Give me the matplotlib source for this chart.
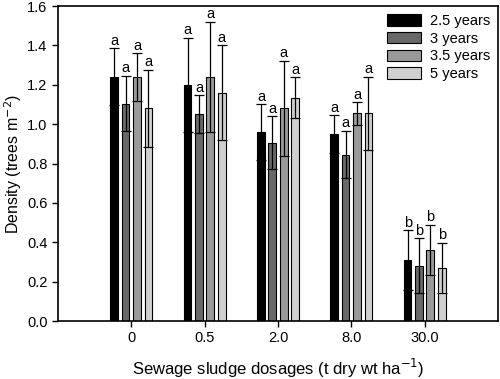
import numpy as np
import matplotlib
matplotlib.use("Agg")
from matplotlib import pyplot as plt

plt.rcParams['font.family'] = ['Liberation Sans', 'DejaVu Sans']

# data
dosages = ['0', '0.5', '2.0', '8.0', '30.0']
series = ['2.5 years', '3 years', '3.5 years', '5 years']
colors = ['#000000', '#686868', '#9a9a9a', '#d0d0d0']

d_25 = [1.24, 1.20, 0.96, 0.95, 0.31]
d_3 = [1.105, 1.05, 0.905, 0.845, 0.28]
d_35 = [1.24, 1.24, 1.08, 1.055, 0.36]
d_5 = [1.08, 1.16, 1.135, 1.055, 0.27]

e_25 = [0.145, 0.24, 0.14, 0.095, 0.15]
e_3 = [0.14, 0.097, 0.134, 0.12, 0.14]
e_35 = [0.12, 0.28, 0.243, 0.057, 0.128]
e_5 = [0.196, 0.24, 0.104, 0.185, 0.128]

letters = ['a', 'a', 'a', 'a', 'b']

values = [d_25, d_3, d_35, d_5]
errors = [e_25, e_3, e_35, e_5]

fig = plt.figure(figsize=(5.0, 3.79), dpi=100)
ax = fig.add_axes([0.116, 0.153, 0.880, 0.831])

x = np.arange(len(dosages))
pitch = 0.155
width = 0.105
for i in range(len(series)):
    pos = x + (i - 1.5) * pitch
    ax.bar(pos, values[i], width, color=colors[i], edgecolor='black',
           linewidth=0.8, label=series[i], zorder=2)
    ax.errorbar(pos, values[i], yerr=errors[i], fmt='none', ecolor='black',
                elinewidth=0.9, capsize=3.5, capthick=0.9, zorder=3)
    for j in range(len(dosages)):
        ax.text(pos[j], values[i][j] + errors[i][j] + 0.003, letters[j],
                ha='center', va='bottom', fontsize=10.5)

ax.set_xlim(-1, 5)
ax.set_ylim(0, 1.6)
ax.set_xticks(x)
ax.set_xticklabels(dosages)
ax.set_yticks(np.arange(0, 1.61, 0.2))
ax.set_yticklabels(['%.1f' % v for v in np.arange(0, 1.61, 0.2)])
ax.tick_params(direction='out', length=4, width=1, labelsize=10.5)
for s in ax.spines.values():
    s.set_linewidth(1.2)

ax.set_xlabel('Sewage sludge dosages (t dry wt ha$^{-1}$)', fontsize=12, labelpad=8)
ax.set_ylabel('Density (trees m$^{-2}$)', fontsize=11.5, labelpad=2)

ax.legend(loc='upper right', frameon=False, fontsize=10.5, handlelength=2.3,
          handleheight=0.8, labelspacing=0.25, handletextpad=0.6,
          borderaxespad=0.15)

fig.savefig('out.png', dpi=100)
